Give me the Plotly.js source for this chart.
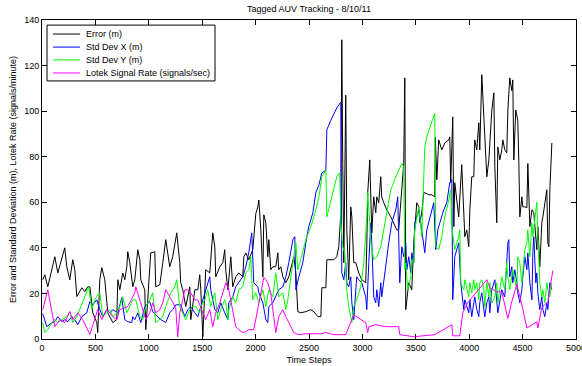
<!DOCTYPE html>
<html>
<head>
<meta charset="utf-8">
<script src="https://cdn.plot.ly/plotly-3.0.1.min.js"></script>
<style>html,body{margin:0;padding:0;background:#fff;}#chart{width:582px;height:366px;}</style>
</head>
<body>
<div id="chart"></div>
<script>
// [time step, value] pairs
const errorM = [[7,26],[26,28.2],[54,22.9],[92,30.4],[120,36.1],[148,29],[185,34.8],[213,40],[232,31.7],[260,26],[288,34.8],[307,30.4],[326,18.6],[373,22.5],[401,20.8],[429,22.9],[448,22.9],[476,11.5],[513,7.2],[522,2.8],[541,26],[560,31.3],[588,26],[607,17.2],[616,11.5],[663,7.2],[700,8.5],[710,26],[729,21.6],[756,29],[775,26],[794,31.7],[803,38.3],[822,33.5],[840,27.3],[850,22.9],[869,26],[897,39.2],[916,34.8],[925,26],[962,21.6],[972,4.1],[1018,37.8],[1056,38.3],[1065,22.9],[1103,23.8],[1131,33.5],[1159,43.6],[1196,31.7],[1224,36.1],[1262,46.6],[1290,33.5],[1299,24.7],[1318,21.6],[1346,14.2],[1384,22.9],[1393,8.5],[1431,21.6],[1459,21.6],[1477,28.2],[1487,21.6],[1506,1],[1533,30.4],[1571,29],[1599,46.6],[1618,40.5],[1627,27.3],[1665,31.7],[1693,33.5],[1711,39.2],[1721,30],[1740,21.6],[1768,36.1],[1786,22.9],[1814,27.3],[1843,29],[1880,27.3],[1890,36.1],[1908,37.8],[1936,34.8],[1974,39.2],[2002,55],[2021,58],[2030,61],[2049,48],[2068,27.3],[2077,54.5],[2096,51],[2114,36.1],[2124,43.6],[2142,30.4],[2161,31.7],[2189,31.7],[2208,37.8],[2217,30.4],[2236,31.7],[2255,27.3],[2283,24.7],[2311,27.3],[2349,34.8],[2358,36.1],[2377,29],[2395,12],[2423,11.5],[2470,12],[2517,12.9],[2545,12],[2583,9.8],[2611,9.8],[2620,22.5],[2658,22.5],[2667,34.8],[2704,34.8],[2733,34.8],[2760,36.1],[2779,40.5],[2798,55.4],[2807,131.3],[2816,77],[2826,33.5],[2844,107],[2854,47.9],[2872,26],[2891,58],[2901,53.6],[2919,33.5],[2938,33.5],[2966,29],[2994,26],[3031,24.7],[3041,40.5],[3050,64.2],[3069,78.6],[3078,62.4],[3088,46.6],[3106,62.4],[3125,55.4],[3135,62.4],[3153,59.8],[3172,71.2],[3181,62.4],[3200,59.8],[3228,56.7],[3266,53.6],[3294,51],[3322,47.9],[3340,47.9],[3387,77],[3397,114.6],[3406,12.9],[3434,24.7],[3462,21.6],[3481,42.2],[3509,59.8],[3528,58],[3537,51],[3556,55.4],[3575,64.2],[3584,64.2],[3622,63.3],[3650,63.3],[3678,62.4],[3683,88.7],[3697,69.9],[3715,87.4],[3743,83],[3771,86],[3809,87.4],[3818,88.7],[3827,68.6],[3846,97.5],[3856,49.3],[3865,68.6],[3902,53.6],[3930,76.5],[3949,53.6],[3959,44.9],[3977,47.9],[3996,40.5],[4006,56.7],[4024,71.2],[4043,71.2],[4052,87.4],[4071,83],[4090,94.9],[4099,83],[4118,116],[4137,97.5],[4146,90.5],[4165,71.2],[4184,78.6],[4212,100.5],[4231,108],[4240,75.6],[4258,51],[4268,84.3],[4287,78.6],[4305,83],[4315,87.4],[4333,83],[4352,81.7],[4362,100.5],[4380,114.6],[4399,109],[4408,113.7],[4418,78.6],[4436,100.5],[4455,96],[4465,77],[4474,53.6],[4493,62.4],[4502,58],[4521,58],[4540,57.6],[4549,77],[4558,65.5],[4568,49.3],[4587,56.7],[4605,55.4],[4633,39.2],[4643,49.3],[4661,31.7],[4680,51],[4690,53.6],[4708,59.8],[4727,65.5],[4736,42.2],[4746,40.5],[4755,65.5],[4765,77],[4774,86]];

const stdDevX = [[7,11.1],[45,5.4],[92,7.2],[120,7.6],[148,9.8],[185,7.6],[213,8.5],[242,7.6],[279,9.8],[307,8.5],[335,6.3],[373,9.8],[419,11.5],[448,16.4],[476,15],[513,17.2],[541,12.9],[569,9.8],[607,12.9],[635,11.5],[663,12.9],[710,11.5],[747,18.1],[775,8.5],[803,7.6],[840,7.2],[850,9.8],[869,8.5],[897,11.5],[925,7.2],[962,14.2],[1009,16.4],[1037,12],[1084,9.8],[1112,8.5],[1159,7.2],[1196,11.5],[1224,12.9],[1252,15],[1299,15],[1337,9.8],[1365,12.9],[1393,14.2],[1431,11.5],[1459,9.8],[1506,17.2],[1533,21.6],[1571,27.3],[1580,21.6],[1618,12.9],[1646,11.5],[1674,15.9],[1711,11.5],[1740,8.5],[1749,15.9],[1786,18.5],[1814,22.9],[1843,24.7],[1880,27.3],[1908,31.7],[1936,37.8],[1964,46.6],[1983,24.7],[2021,22.9],[2030,20.3],[2068,15.9],[2096,8.5],[2114,7.2],[2124,14.2],[2161,15.9],[2189,18.5],[2217,21.6],[2255,22.9],[2283,27.3],[2311,33.5],[2349,43.6],[2367,44.9],[2377,21.6],[2405,27.3],[2442,33.5],[2470,42.2],[2498,49.3],[2536,55.4],[2564,64.2],[2592,67.5],[2611,71.2],[2620,72.9],[2658,74],[2667,91.8],[2704,96],[2733,99],[2760,101.4],[2798,104],[2807,29],[2826,26],[2844,33.5],[2854,24.7],[2872,22.9],[2891,27.3],[2901,15.9],[2919,8.5],[2938,21.6],[2947,27.3],[2966,26],[2994,24.7],[3031,18.5],[3041,12.9],[3060,33.5],[3078,51],[3088,42.2],[3106,18.5],[3125,15.9],[3135,21.6],[3153,14.2],[3172,24.7],[3181,18.5],[3219,33.5],[3247,42.2],[3275,51],[3312,56.7],[3331,62.4],[3350,24.7],[3369,40.5],[3387,36.1],[3406,42.2],[3416,30.4],[3434,36.1],[3453,29],[3462,37.8],[3481,33.5],[3490,51],[3528,56.7],[3556,47.9],[3584,37.8],[3603,47.9],[3631,53.6],[3668,59.8],[3687,39.2],[3706,47.9],[3725,51],[3762,56.7],[3790,59.8],[3818,68.6],[3837,70],[3846,17.2],[3865,36.1],[3902,42.2],[3921,24.7],[3949,12.9],[3959,17.2],[3977,14.2],[3996,11.5],[4006,17.2],[4024,9.8],[4043,15.9],[4052,18.5],[4071,12.9],[4090,9.8],[4099,15.9],[4118,20.3],[4137,12.9],[4146,9.8],[4165,15.9],[4184,18.5],[4193,11.5],[4212,21.6],[4240,26],[4258,15.9],[4268,11.5],[4305,21.6],[4333,18.5],[4362,42.2],[4371,43.6],[4380,27.3],[4399,31.7],[4408,24.7],[4427,30.4],[4446,24.7],[4455,20.3],[4474,15.9],[4493,21.6],[4502,27.3],[4521,36.1],[4540,30.4],[4549,37.8],[4568,24.7],[4587,17.2],[4596,37.8],[4605,44.9],[4624,24.7],[4633,29],[4643,20.3],[4661,12.9],[4680,18.5],[4690,12.9],[4708,9.8],[4727,15.9],[4736,12.9],[4755,24.7],[4774,21.6]];

const stdDevY = [[7,7.2],[26,2.8],[54,4.1],[92,7.2],[120,8.5],[148,7.2],[185,8.5],[232,9.8],[260,12],[288,7.2],[326,9.8],[354,12.9],[382,15.9],[419,20.3],[438,22.9],[466,12.9],[494,17.2],[522,19.4],[541,20.3],[569,9.8],[607,11.5],[635,12.9],[663,9.8],[700,11.5],[728,14.2],[756,18.5],[794,11.5],[822,14.2],[850,17.2],[878,17.2],[916,9.8],[944,8.5],[972,14.2],[1009,17.2],[1037,20.3],[1065,7.2],[1103,8.5],[1131,9.8],[1159,14.2],[1206,20.3],[1243,22.9],[1262,26],[1290,14.2],[1318,11.5],[1346,8.5],[1384,12.9],[1412,14.2],[1440,14.2],[1477,11.5],[1487,14.2],[1524,17.2],[1552,21.6],[1580,14.2],[1618,20.3],[1646,8.5],[1674,12.9],[1711,17.2],[1721,15.9],[1740,8.5],[1749,12.9],[1786,18.5],[1814,15.9],[1843,21.6],[1880,22.9],[1908,29],[1936,30.4],[1955,36.1],[1974,17.2],[2002,20.3],[2030,15.9],[2068,21.6],[2096,14.2],[2124,21.6],[2161,18.5],[2189,29],[2217,18.5],[2255,20.3],[2283,12.9],[2302,17.2],[2330,27.3],[2358,36.1],[2377,42.2],[2395,30.4],[2423,34.8],[2470,43.6],[2517,49.3],[2564,56.7],[2592,62],[2620,71.2],[2658,74],[2667,53.6],[2714,62.4],[2760,71.2],[2788,73],[2798,51],[2816,40.5],[2835,37.8],[2854,21.6],[2872,14.2],[2891,9.8],[2901,7.2],[2919,14.2],[2947,17.2],[2985,22.9],[3013,33.5],[3041,53.6],[3050,64.2],[3069,51],[3078,42.2],[3106,34.8],[3135,36.1],[3172,40.5],[3219,52.3],[3266,65.5],[3312,71.2],[3340,74],[3369,77],[3387,75.6],[3397,30.4],[3406,33.5],[3425,21.6],[3453,27.3],[3462,34.8],[3481,33.5],[3490,47.9],[3528,58],[3556,44.9],[3584,84.3],[3603,88.7],[3640,94],[3678,99],[3687,40.5],[3715,39.2],[3743,44.9],[3771,53.6],[3809,61],[3827,65.5],[3837,49.3],[3865,39.2],[3902,44.9],[3912,47.9],[3921,24.7],[3949,21.6],[3959,26],[3996,18.5],[4006,24.7],[4024,20.3],[4043,26],[4052,21.6],[4071,24.7],[4090,17.2],[4099,24.7],[4118,26],[4137,21.6],[4146,14.2],[4165,24.7],[4184,18.5],[4193,24.7],[4212,15.9],[4240,18.5],[4258,24.7],[4268,15.9],[4305,27.3],[4333,21.6],[4352,33.5],[4362,27.3],[4380,21.6],[4408,30.4],[4446,21.6],[4455,36.1],[4474,33.5],[4493,24.7],[4521,39.2],[4540,42.2],[4549,47.9],[4568,36.1],[4587,51],[4596,44.9],[4615,53.6],[4633,60],[4643,44.9],[4661,24.7],[4680,18.5],[4690,21.6],[4708,15.9],[4727,24.7],[4736,21.6],[4755,18.5],[4774,24.7]];

const lotekRate = [[7,12.9],[54,21.6],[92,12],[120,5.4],[167,8.5],[213,7.2],[260,12],[288,8.5],[335,11.5],[382,8.5],[448,2],[494,8.5],[522,12.9],[560,8.5],[607,12.9],[635,11.5],[663,9.8],[700,8.5],[728,12.9],[803,14.2],[869,20.3],[878,22.9],[916,17.2],[944,12.9],[972,8.5],[1009,11.5],[1037,15.9],[1065,11.5],[1103,12.9],[1131,15.9],[1159,21.6],[1196,18.5],[1224,15.9],[1252,13.7],[1271,1],[1290,11.5],[1318,17.2],[1337,21.6],[1365,21.6],[1393,20.3],[1431,17.2],[1459,17.2],[1506,11.5],[1533,8.5],[1571,12.9],[1599,5.4],[1627,11.5],[1665,15.9],[1693,20.3],[1721,24.7],[1749,21.6],[1786,12.9],[1814,5.4],[1843,4.1],[1880,2.8],[1908,3.2],[1936,4.1],[1983,4.1],[2021,12.9],[2049,20.3],[2077,27],[2114,24.7],[2142,20.3],[2170,9.8],[2189,2.8],[2217,9.8],[2255,12.9],[2283,9.8],[2330,5.4],[2358,2.8],[2405,1.9],[2470,2.3],[2536,2.3],[2611,2.3],[2658,2.8],[2733,1.9],[2844,1.9],[2919,10.6],[3031,7.2],[3050,2.8],[3060,5.4],[3125,6.3],[3219,5.4],[3340,5.4],[3350,1.9],[3481,1],[3678,1.9],[3837,6.3],[3846,1.4],[3912,1.4],[3940,11.5],[3987,16],[4071,20.7],[4165,26],[4193,22.5],[4258,20.7],[4305,20.7],[4362,9],[4399,16.4],[4446,24],[4493,15],[4540,4.8],[4633,7.6],[4643,4.8],[4680,13.7],[4736,16.4],[4783,30]];

const seriesNames = ['Error (m)', 'Std Dev X (m)', 'Std Dev Y (m)', 'Lotek Signal Rate (signals/sec)'];
const seriesColors = ['#000000', '#0000ff', '#00ff00', '#ff00ff'];
const seriesData = [errorM, stdDevX, stdDevY, lotekRate];
const xTicks = [0, 500, 1000, 1500, 2000, 2500, 3000, 3500, 4000, 4500, 5000];
const yTicks = [0, 20, 40, 60, 80, 100, 120, 140];

const FONT = 'Liberation Sans, Arial, Helvetica, sans-serif';

const traces = seriesData.map((d, i) => ({
  type: 'scatter', mode: 'lines', name: seriesNames[i],
  x: d.map(p => p[0]), y: d.map(p => p[1]),
  line: {color: seriesColors[i], width: 1},
  showlegend: false, hoverinfo: 'skip'
}));

// manual MATLAB-style legend box
const shapes = [{type: 'rect', xref: 'paper', yref: 'paper', x0: 0.0094, x1: 0.324, y0: 0.809, y1: 0.984,
  line: {color: '#000', width: 1}, fillcolor: '#fff', layer: 'above'}];
const annotations = [];
const rows = [0.956, 0.915, 0.875, 0.834];
seriesNames.forEach((n, i) => {
  shapes.push({type: 'line', xref: 'paper', yref: 'paper', x0: 0.0206, x1: 0.0712, y0: rows[i], y1: rows[i],
    line: {color: seriesColors[i], width: 1}, layer: 'above'});
  annotations.push({xref: 'paper', yref: 'paper', x: 0.0787, y: rows[i], xanchor: 'left', yanchor: 'middle',
    text: n, showarrow: false, font: {family: FONT, size: 9, color: '#000'}});
});

const layout = {
  width: 582, height: 366,
  margin: {l: 42, r: 6, t: 20, b: 27},
  paper_bgcolor: '#fff', plot_bgcolor: '#fff',
  font: {family: FONT, size: 9, color: '#000'},
  title: {text: 'Tagged AUV Tracking - 8/10/11', font: {family: FONT, size: 9, color: '#000'},
    x: 0.5, xref: 'paper', y: 0.975, yref: 'container', yanchor: 'middle'},
  xaxis: {range: [0, 5000], tickvals: xTicks, ticktext: xTicks.map(String), showgrid: false, zeroline: false,
    showline: true, linecolor: '#000', linewidth: 1, mirror: 'ticks', ticks: 'inside', ticklen: 5, tickcolor: '#000',
    ticklabeloverflow: 'allow', tickfont: {size: 9}, title: {text: 'Time Steps', font: {size: 9}, standoff: 4}},
  yaxis: {range: [0, 140], tickvals: yTicks, ticktext: yTicks.map(String), showgrid: false, zeroline: false,
    showline: true, linecolor: '#000', linewidth: 1, mirror: 'ticks', ticks: 'inside', ticklen: 5, tickcolor: '#000',
    tickfont: {size: 9}, title: {text: 'Error and Standard Deviation (m), Lotek Rate (signals/minute)', font: {size: 9}, standoff: 6}},
  shapes: shapes, annotations: annotations
};

Plotly.newPlot('chart', traces, layout, {staticPlot: true, displayModeBar: false});
</script>
</body>
</html>
